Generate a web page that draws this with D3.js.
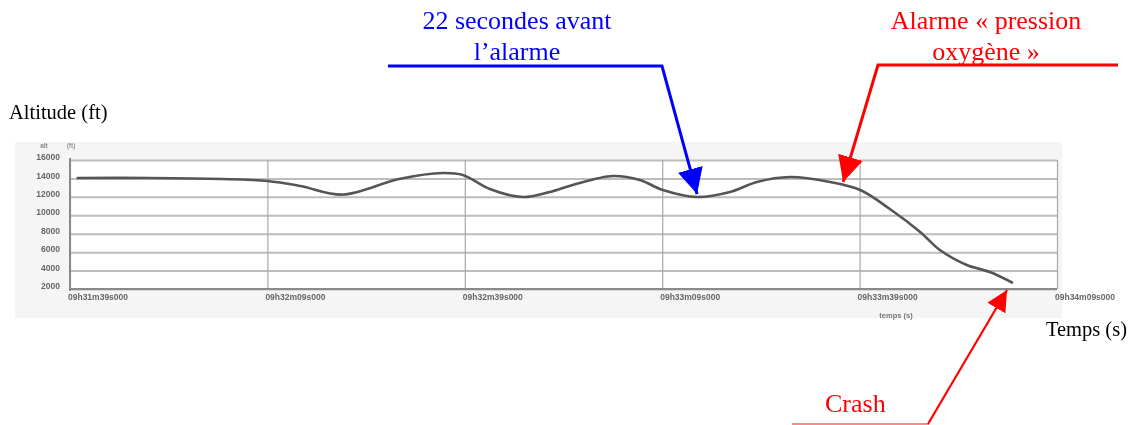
<!DOCTYPE html>
<html>
<head>
<meta charset="utf-8">
<script src="https://cdn.jsdelivr.net/npm/d3@7"></script>
<style>
  body { margin: 0; background: #fff; }
  svg { display: block; }
</style>
</head>
<body>
<div id="wrapper"></div>
<script>
// data
const timeSec = [1, 12, 23, 30, 35, 41.5, 50, 56.7, 59.7, 63.8, 68.8, 72.9, 76.4, 82.5, 86.6, 90.1, 95.3, 100.3, 104.4, 109.4, 115.5, 120.1, 124.6, 129.2, 132.2, 136.3, 139.8, 143.3];
const altitudeFt = [14050, 14050, 13940, 13720, 13180, 12250, 13940, 14590, 14370, 12850, 11980, 12530, 13290, 14260, 13830, 12740, 11980, 12530, 13610, 14150, 13610, 12740, 10680, 8190, 6230, 4600, 3840, 2650];
const yTicks = [2000, 4000, 6000, 8000, 10000, 12000, 14000, 16000];
const xTicks = [0, 30, 60, 90, 120, 150];
const xTickLabels = ["09h31m39s000", "09h32m09s000", "09h32m39s000", "09h33m09s000", "09h33m39s000", "09h34m09s000"];

function drawChart() {
    const dimensions = {
        width: 1130,
        height: 425,
        plot: { left: 70, right: 1057, top: 160, bottom: 289 }
    };

    const svg = d3.select('#wrapper')
        .append('svg')
        .attr('width', dimensions.width)
        .attr('height', dimensions.height);

    const defs = svg.append('defs');
    defs.append('filter').attr('id', 'soft')
        .append('feGaussianBlur').attr('stdDeviation', 0.45);
    const arrow = (id, color, size) => defs.append('marker')
        .attr('id', id)
        .attr('viewBox', '0 0 10 10')
        .attr('refX', 10).attr('refY', 5)
        .attr('markerWidth', size).attr('markerHeight', size)
        .attr('markerUnits', 'strokeWidth')
        .attr('orient', 'auto')
        .append('path')
        .attr('d', 'M0,0 L10,5 L0,10 Z')
        .attr('fill', color);
    arrow('arrBlue', '#0000ff', 8.5);
    arrow('arrRed', '#ff0000', 8.5);
    arrow('arrRedSmall', '#ff0000', 9.5);

    // scales
    const xScale = d3.scaleLinear()
        .domain([0, 150])
        .range([dimensions.plot.left, dimensions.plot.right]);
    const yScale = d3.scaleLinear()
        .domain([2000, 16000])
        .range([dimensions.plot.bottom, dimensions.plot.top]);

    // scanned grey panel behind the chart
    svg.append('rect')
        .attr('x', 15).attr('y', 142)
        .attr('width', 1047).attr('height', 176)
        .attr('fill', '#f5f5f5');
    svg.append('rect')
        .attr('x', xScale(0)).attr('y', yScale(16000))
        .attr('width', xScale(150) - xScale(0))
        .attr('height', yScale(2000) - yScale(16000))
        .attr('fill', '#fff');

    const chart = svg.append('g').attr('filter', 'url(#soft)');

    // horizontal grid
    chart.append('g')
        .attr('transform', `translate(${dimensions.plot.left},0)`)
        .call(d3.axisLeft(yScale).tickValues(yTicks)
            .tickSize(-(dimensions.plot.right - dimensions.plot.left)).tickFormat(''))
        .call(g => g.select('.domain').remove())
        .call(g => g.selectAll('line').attr('stroke', '#bdbdbd').attr('stroke-width', 2));

    // vertical grid
    chart.append('g')
        .attr('transform', `translate(0,${dimensions.plot.bottom})`)
        .call(d3.axisBottom(xScale).tickValues(xTicks)
            .tickSize(-(dimensions.plot.bottom - dimensions.plot.top)).tickFormat(''))
        .call(g => g.select('.domain').remove())
        .call(g => g.selectAll('line').attr('stroke', '#a8a8a8').attr('stroke-width', 1.2));

    // axes lines
    chart.append('line')
        .attr('x1', xScale(0)).attr('x2', xScale(0))
        .attr('y1', yScale(16000) - 2).attr('y2', yScale(2000) + 2)
        .attr('stroke', '#888').attr('stroke-width', 2);
    chart.append('line')
        .attr('x1', xScale(0)).attr('x2', xScale(150))
        .attr('y1', yScale(2000)).attr('y2', yScale(2000))
        .attr('stroke', '#8a8a8a').attr('stroke-width', 2.2);

    const sans = 'Arial, "Liberation Sans", sans-serif';

    // y tick labels
    chart.append('g')
        .attr('transform', `translate(${dimensions.plot.left - 10},0)`)
        .call(d3.axisLeft(yScale).tickValues(yTicks).tickSize(0).tickPadding(0)
            .tickFormat(d3.format('d')))
        .call(g => g.select('.domain').remove())
        .call(g => g.selectAll('text')
            .attr('dy', '-0.05em')
            .attr('font-family', sans)
            .attr('font-weight', 'bold')
            .attr('font-size', 8.5)
            .attr('fill', '#666'));

    // x tick labels (left aligned on grid lines)
    chart.append('g')
        .selectAll('text')
        .data(xTicks)
        .join('text')
        .attr('x', d => xScale(d) - 2)
        .attr('y', dimensions.plot.bottom + 11)
        .attr('font-family', sans)
        .attr('font-weight', 'bold')
        .attr('font-size', 8.5)
        .attr('fill', '#666')
        .text((d, i) => xTickLabels[i]);

    chart.append('text')
        .attr('x', 896).attr('y', 318)
        .attr('text-anchor', 'middle')
        .attr('font-family', sans)
        .attr('font-weight', 'bold')
        .attr('font-size', 7.5)
        .attr('fill', '#777')
        .text('temps (s)');
    chart.append('text')
        .attr('x', 44).attr('y', 148)
        .attr('text-anchor', 'middle')
        .attr('font-family', sans)
        .attr('font-weight', 'bold')
        .attr('font-size', 6.5)
        .attr('fill', '#888')
        .text('alt');
    chart.append('text')
        .attr('x', 71).attr('y', 148)
        .attr('text-anchor', 'middle')
        .attr('font-family', sans)
        .attr('font-weight', 'bold')
        .attr('font-size', 6.5)
        .attr('fill', '#999')
        .text('(ft)');

    // altitude line
    const lineDrawer = d3.line()
        .x((d, i) => xScale(timeSec[i]))
        .y(d => yScale(d))
        .curve(d3.curveCatmullRom.alpha(0.5));
    chart.append('path')
        .attr('d', lineDrawer(altitudeFt))
        .attr('fill', 'none')
        .attr('stroke', '#555')
        .attr('stroke-width', 2.6);

    // titles
    const serif = '"Liberation Serif", "Times New Roman", serif';
    svg.append('text')
        .attr('x', 9).attr('y', 119)
        .attr('font-family', serif).attr('font-size', 20.5)
        .text('Altitude (ft)');
    svg.append('text')
        .attr('x', 1127).attr('y', 336)
        .attr('text-anchor', 'end')
        .attr('font-family', serif).attr('font-size', 20.5)
        .text('Temps (s)');

    // annotation: 22 secondes avant l'alarme
    const blueTip = [xScale(95.3), yScale(11980) - 3];
    svg.append('text')
        .attr('x', 517).attr('y', 29)
        .attr('text-anchor', 'middle')
        .attr('font-family', serif).attr('font-size', 26).attr('fill', '#0000ff')
        .text('22 secondes avant');
    svg.append('text')
        .attr('x', 517).attr('y', 60)
        .attr('text-anchor', 'middle')
        .attr('font-family', serif).attr('font-size', 26).attr('fill', '#0000ff')
        .text('l’alarme');
    svg.append('path')
        .attr('d', `M388,66 L662,66 L${blueTip[0]},${blueTip[1]}`)
        .attr('fill', 'none')
        .attr('stroke', '#0000ff').attr('stroke-width', 3)
        .attr('marker-end', 'url(#arrBlue)');

    // annotation: Alarme pression oxygene
    const redTip = [xScale(117.5), yScale(13300) - 3];
    svg.append('text')
        .attr('x', 986).attr('y', 29)
        .attr('text-anchor', 'middle')
        .attr('font-family', serif).attr('font-size', 26).attr('fill', '#ff0000')
        .text('Alarme « pression');
    svg.append('text')
        .attr('x', 986).attr('y', 60)
        .attr('text-anchor', 'middle')
        .attr('font-family', serif).attr('font-size', 26).attr('fill', '#ff0000')
        .text('oxygène »');
    svg.append('path')
        .attr('d', `M1118,65 L878,65 L${redTip[0]},${redTip[1]}`)
        .attr('fill', 'none')
        .attr('stroke', '#ff0000').attr('stroke-width', 3)
        .attr('marker-end', 'url(#arrRed)');

    // annotation: Crash
    svg.append('text')
        .attr('x', 825).attr('y', 412)
        .attr('font-family', serif).attr('font-size', 26).attr('fill', '#ff0000')
        .text('Crash');
    svg.append('line')
        .attr('x1', 792).attr('x2', 929)
        .attr('y1', 424).attr('y2', 424)
        .attr('stroke', '#ff6060').attr('stroke-width', 1.5);
    svg.append('path')
        .attr('d', `M928,424 L1007,290`)
        .attr('fill', 'none')
        .attr('stroke', '#ff0000').attr('stroke-width', 2.2)
        .attr('marker-end', 'url(#arrRedSmall)');
}

drawChart();
</script>
</body>
</html>
